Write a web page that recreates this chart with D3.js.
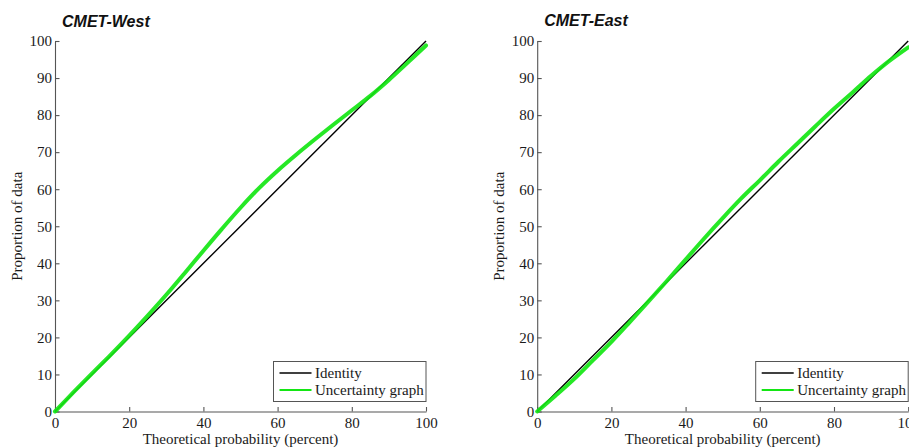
<!DOCTYPE html>
<html>
<head>
<meta charset="utf-8">
<script src="https://cdn.jsdelivr.net/npm/d3@7"></script>
<style>
  html, body { margin: 0; padding: 0; background: #fff; }
  svg { display: block; }
  .tick text, .lbl { font-family: "Liberation Serif", "Times New Roman", serif; font-size: 15px; fill: #1a1a1a; }
  .ttl { font-family: "Liberation Sans", Arial, sans-serif; font-size: 16px; font-weight: bold; font-style: italic; fill: #111; }
</style>
</head>
<body>
<svg id="chart" width="909" height="448"></svg>
<script>
// Theoretical probability grid (percent) at which both curves are sampled
const probGrid = [0, 5, 10, 15, 20, 25, 30, 35, 40, 45, 50, 55, 60, 65, 70, 75, 80, 85, 90, 95, 100];
// Proportion of data (percent) for each station
const westProportion = [0, 5.2, 10.3, 15.3, 20.5, 25.9, 31.5, 37.4, 43.4, 49.3, 55.0, 60.3, 65.0, 69.3, 73.4, 77.4, 81.3, 85.2, 89.5, 94.1, 98.8];
const eastProportion = [0, 4.3, 8.8, 13.8, 18.8, 24.2, 29.7, 35.3, 41.0, 46.7, 52.2, 57.5, 62.4, 67.4, 72.2, 77.0, 81.7, 86.1, 90.6, 94.7, 98.3];
// Identity reference line
const identityLine = [0, 100];
// Tick labels
const xTicks = [0, 20, 40, 60, 80, 100];
const yTicks = [0, 10, 20, 30, 40, 50, 60, 70, 80, 90, 100];
// Panel titles and legend entries
const panelTitles = ["CMET-West", "CMET-East"];
const legendLabels = ["Identity", "Uncertainty graph"];
const seriesColors = ["#000000", "#14e614"];

const svg = d3.select("#chart");
const panels = [
  { left: 55, title: panelTitles[0], values: westProportion, titleY: 27 },
  { left: 537.2, title: panelTitles[1], values: eastProportion, titleY: 26 }
];
const plotW = 371, plotTop = 41, plotBottom = 411.5;

panels.forEach(p => {
  const x = d3.scaleLinear().domain([0, 100]).range([p.left, p.left + plotW]);
  const y = d3.scaleLinear().domain([0, 100]).range([plotBottom, plotTop]);
  const g = svg.append("g");

  // axes: ticks point inward, no box
  const ax = g.append("g").attr("transform", `translate(0,${plotBottom})`)
    .call(d3.axisBottom(x).tickValues(xTicks).tickSizeInner(-4.5).tickSizeOuter(0).tickPadding(6));
  const ay = g.append("g").attr("transform", `translate(${p.left},0)`)
    .call(d3.axisLeft(y).tickValues(yTicks).tickSizeInner(-4.5).tickSizeOuter(0).tickPadding(3));
  [ax, ay].forEach(a => {
    a.attr("font-family", null).attr("font-size", null);
    a.select(".domain").attr("stroke", "#555").attr("stroke-width", 1.1);
    a.selectAll(".tick line").attr("stroke", "#555").attr("stroke-width", 1.1);
    a.selectAll(".tick text").classed("lbl", true).attr("fill", "#1a1a1a");
  });
  ax.selectAll(".tick text").attr("dy", "0.71em");

  // identity line
  const line = d3.line().x(d => x(d[0])).y(d => y(d[1]));
  g.append("path")
    .datum(identityLine.map(v => [v, v]))
    .attr("d", line)
    .attr("fill", "none").attr("stroke", seriesColors[0]).attr("stroke-width", 1.4);

  // uncertainty graph, smoothed through the sampled points
  const curve = d3.line().x(d => x(d[0])).y(d => y(d[1])).curve(d3.curveCatmullRom.alpha(0.5));
  g.append("path")
    .datum(probGrid.map((v, i) => [v, p.values[i]]))
    .attr("d", curve)
    .attr("fill", "none").attr("stroke", seriesColors[1]).attr("stroke-width", 4)
    .attr("stroke-linejoin", "round").attr("stroke-linecap", "round")
    .attr("opacity", 0.92);

  // title
  g.append("text").attr("class", "ttl").attr("x", p.left + 7).attr("y", p.titleY).text(p.title);

  // axis labels
  g.append("text").attr("class", "lbl").attr("text-anchor", "middle")
    .attr("x", x(50)).attr("y", 444).text("Theoretical probability (percent)");
  g.append("text").attr("class", "lbl").attr("text-anchor", "middle")
    .attr("transform", `translate(${p.left - 33.5},${y(50)}) rotate(-90)`)
    .text("Proportion of data");

  // legend
  const lx = x(100) - 153, ly = 361;
  const lg = g.append("g");
  lg.append("rect").attr("x", lx + 0.5).attr("y", ly + 0.5).attr("width", 152.5).attr("height", 40)
    .attr("fill", "#fff").attr("stroke", "#555").attr("stroke-width", 1);
  legendLabels.forEach((t, i) => {
    const yy = ly + 12 + i * 17;
    lg.append("line").attr("x1", lx + 6.5).attr("x2", lx + 38.5).attr("y1", yy).attr("y2", yy)
      .attr("stroke", seriesColors[i]).attr("stroke-width", i === 0 ? 1.6 : 2);
    lg.append("text").attr("class", "lbl").attr("x", lx + 42).attr("y", yy).attr("dy", "0.35em").text(t);
  });
});
</script>
</body>
</html>
